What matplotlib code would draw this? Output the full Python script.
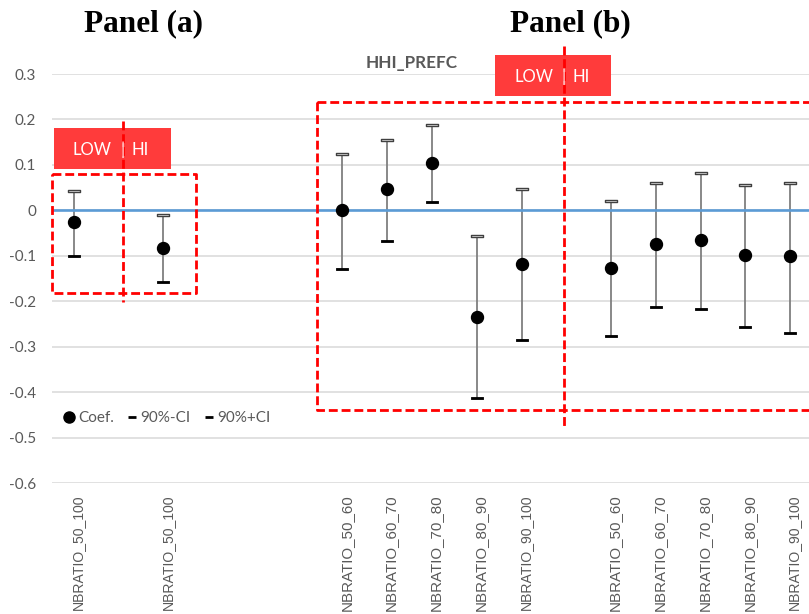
import matplotlib
matplotlib.use("Agg")
import matplotlib.pyplot as plt
from matplotlib.lines import Line2D
from matplotlib.patches import Rectangle
from matplotlib.path import Path
import matplotlib.transforms as mtransforms

# ---------------- data ----------------
positions = [0, 2, 6, 7, 8, 9, 10, 12, 13, 14, 15, 16]
tick_labels = ["NBRATIO_50_100", "NBRATIO_50_100",
               "NBRATIO_50_60", "NBRATIO_60_70", "NBRATIO_70_80", "NBRATIO_80_90", "NBRATIO_90_100",
               "NBRATIO_50_60", "NBRATIO_60_70", "NBRATIO_70_80", "NBRATIO_80_90", "NBRATIO_90_100"]
coef = [-0.026, -0.082, 0.000, 0.046, 0.105, -0.234, -0.117, -0.126, -0.074, -0.065, -0.098, -0.101]
ci_upper = [0.043, -0.011, 0.124, 0.155, 0.188, -0.057, 0.046, 0.021, 0.060, 0.082, 0.056, 0.061]
ci_lower = [-0.100, -0.158, -0.129, -0.068, 0.019, -0.412, -0.285, -0.276, -0.212, -0.218, -0.256, -0.270]
y_ticks = [-0.6, -0.5, -0.4, -0.3, -0.2, -0.1, 0, 0.1, 0.2, 0.3]
y_tick_labels = ["-0.6", "-0.5", "-0.4", "-0.3", "-0.2", "-0.1", "0", "0.1", "0.2", "0.3"]

W, H = 809, 614
fig = plt.figure(figsize=(W / 100, H / 100), dpi=100)

# axes: x from -0.5 .. 16.5 spanning px 51.6 .. 812.4 ; y -0.6..0.3 spanning px 483..74
left_px, right_px = 51.6, 812.4
top_px, bot_px = 74, 483
ax = fig.add_axes([left_px / W, 1 - bot_px / H, (right_px - left_px) / W, (bot_px - top_px) / H])
ax.set_xlim(-0.5, 16.5)
ax.set_ylim(-0.6, 0.3)

for s in ax.spines.values():
    s.set_visible(False)

gray_txt = "#595959"
ax.set_yticks(y_ticks)
ax.set_yticklabels(y_tick_labels, fontfamily="Lato", fontsize=11, color=gray_txt)
ax.tick_params(axis="y", length=0, pad=11)
ax.yaxis.grid(True, color="#D9D9D9", linewidth=1.1)
ax.set_axisbelow(True)

ax.set_xticks(positions)
ax.set_xticklabels(tick_labels, rotation=90, fontfamily="Liberation Sans", color=gray_txt,
                   va="top", ha="center")
ax.tick_params(axis="x", length=0, pad=8)
offset = mtransforms.ScaledTranslation(4 / 100, 0, fig.dpi_scale_trans)
for lab in ax.get_xticklabels():
    lab.set_fontsize(10.9 if len(lab.get_text()) <= 13 else 10.1)
    lab.set_transform(lab.get_transform() + offset)

# zero line
ax.axhline(0, color="#5B9BD5", linewidth=1.9, zorder=3)

# error bars
ax.vlines(positions, ci_lower, ci_upper, color="#7F7F7F", linewidth=1.3, zorder=2)
cap = Path([(-1, -0.22), (1, -0.22), (1, 0.22), (-1, 0.22), (-1, -0.22)],
           [Path.MOVETO, Path.LINETO, Path.LINETO, Path.LINETO, Path.CLOSEPOLY])
ax.plot(positions, ci_upper, linestyle="none", marker=cap, markersize=9,
        markerfacecolor="white", markeredgecolor="#404040", markeredgewidth=1.0, zorder=4)
ax.plot(positions, ci_lower, linestyle="none", marker=cap, markersize=9,
        markerfacecolor="black", markeredgecolor="black", markeredgewidth=0.6, zorder=4)
ax.plot(positions, coef, linestyle="none", marker="o", markersize=8.6,
        color="black", zorder=5)

# legend
handles = [Line2D([], [], linestyle="none", marker="o", markersize=8, color="black"),
           Line2D([], [], linestyle="none", marker="_", markersize=6, markeredgewidth=2, color="black"),
           Line2D([], [], linestyle="none", marker="_", markersize=6, markeredgewidth=2, color="black")]
leg = fig.legend(handles, ["Coef.", "90%-CI", "90%+CI"], ncol=3, frameon=False,
                 loc="center left", bbox_to_anchor=(65 / W, 1 - 418 / H),
                 handlelength=0.55, handletextpad=0.3, columnspacing=0.9,
                 borderpad=0, borderaxespad=0,
                 prop={"family": "Lato", "size": 11})
for t in leg.get_texts():
    t.set_color(gray_txt)

# ---------------- annotations ----------------
def px2data(px, py):
    x = -0.5 + (px - left_px) / (right_px - left_px) * 17
    y = 0.3 - (py - top_px) / (bot_px - top_px) * 0.9
    return x, y

red_dash = dict(color="#FF0000", linewidth=2.0, linestyle=(0, (3.2, 1.4)), clip_on=False, zorder=6)

def dashed_rect(x0, y0, x1, y1):
    (a, b), (c, d) = px2data(x0, y0), px2data(x1, y1)
    ax.plot([a, c, c, a, a], [b, b, d, d, b], **red_dash)

def vdash(xp, y0, y1):
    (a, b), (_, d) = px2data(xp, y0), px2data(xp, y1)
    ax.plot([a, a], [b, d], **red_dash)

def red_box(x0, y0, x1, y1, xmid, ytxt):
    (a, b), (c, d) = px2data(x0, y0), px2data(x1, y1)
    ax.add_patch(Rectangle((a, d), c - a, b - d, facecolor="#FF3B3B", edgecolor="none",
                           clip_on=False, zorder=5))
    xm, yt = px2data(xmid, ytxt)
    kw = dict(color="white", fontfamily="Lato", fontsize=12, va="center", zorder=7, clip_on=False)
    ax.text(xm - 0.24, yt, "LOW", ha="right", **kw)
    ax.text(xm, yt, "|", ha="center", **kw)
    ax.text(xm + 0.2, yt, "HI", ha="left", **kw)

# panel (a)
red_box(54, 128, 171, 169, 122.7, 150)
dashed_rect(52, 174, 196, 293)
vdash(122.7, 121, 302)

# panel (b)
red_box(495, 55, 611, 96, 564, 77)
dashed_rect(317, 102, 830, 410)
vdash(564, 46, 426)

# titles
fig.text(144 / W, 1 - 24 / H, "Panel (a)", ha="center", va="center",
         fontfamily="Liberation Serif", fontweight="bold", fontsize=22.5)
fig.text(570 / W, 1 - 24 / H, "Panel (b)", ha="center", va="center",
         fontfamily="Liberation Serif", fontweight="bold", fontsize=22.5)
fig.text(412 / W, 1 - 63 / H, "HHI_PREFC", ha="center", va="center",
         fontfamily="Lato", fontweight="bold", fontsize=12.3, color=gray_txt)

fig.savefig("out.png", dpi=100)
